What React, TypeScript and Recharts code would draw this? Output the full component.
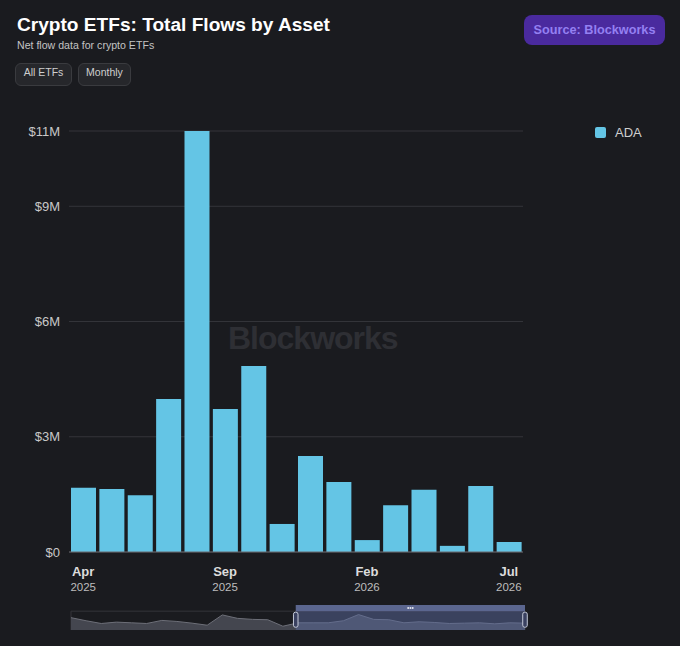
import { AreaChart, Area, BarChart, Bar, CartesianGrid, Legend, ReferenceArea, ReferenceDot, XAxis, YAxis } from 'recharts'

const months = [
  'Apr 2025', 'May 2025', 'Jun 2025', 'Jul 2025', 'Aug 2025', 'Sep 2025', 'Oct 2025', 'Nov 2025',
  'Dec 2025', 'Jan 2026', 'Feb 2026', 'Mar 2026', 'Apr 2026', 'May 2026', 'Jun 2026', 'Jul 2026',
]
const adaFlows = [1.67, 1.64, 1.48, 3.98, 10.96, 3.72, 4.84, 0.73, 2.5, 1.82, 0.31, 1.22, 1.62, 0.16, 1.72, 0.26]
const yTicks = [0, 3, 6, 9, 10.96]
const xTicks = ['Apr 2025', 'Sep 2025', 'Feb 2026', 'Jul 2026']
const navigatorValues = [
  36, 27, 19, 23, 21, 19, 28, 25, 20, 14, 44, 34, 31, 30, 11, 21,
  21, 21, 27, 45, 31, 30, 21, 24, 22, 19, 20, 21, 18, 21, 20,
]

const barData = months.map((month, i) => ({ month, ADA: adaFlows[i] }))
const navData = navigatorValues.map((value, i) => ({ i, value }))

const bg = '#1a1b1f'
const barColor = '#64c5e5'
const sans = '"Liberation Sans", Arial, sans-serif'

function MonthTick({ x, y, payload }: any) {
  const [month, year] = String(payload.value).split(' ')
  return (
    <g fontFamily={sans}>
      <text x={x} y={y + 16} textAnchor="middle" fontSize={13} fontWeight={700} fill="#dcdcdc">
        {month}
      </text>
      <text x={x} y={y + 31} textAnchor="middle" fontSize={11.5} fill="#bdbdbd">
        {year}
      </text>
    </g>
  )
}

function AdaLegend() {
  return (
    <div style={{ position: 'absolute', left: 595, top: 125, display: 'flex', alignItems: 'center', fontSize: 13, lineHeight: '15px', color: '#cfcfcf' }}>
      <span style={{ width: 11, height: 11, borderRadius: 2, background: barColor, marginRight: 9 }} />
      ADA
    </div>
  )
}

function RoundedHandle({ x, y, width, height }: any) {
  return <rect x={x} y={y} width={width} height={height} rx={2} fill="#3a4160" stroke="#c5cad8" strokeWidth={1} />
}

const pill = {
  position: 'absolute' as const,
  top: 63,
  height: 23,
  boxSizing: 'border-box' as const,
  border: '1px solid #3a3b3f',
  borderRadius: 6,
  background: '#26272b',
  color: '#cfcfcf',
  fontSize: 10.5,
  lineHeight: '17px',
  textAlign: 'center' as const,
}

export default function App() {
  return (
    <div style={{ position: 'absolute', left: 0, top: 0, width: 680, height: 646, background: bg, fontFamily: sans, overflow: 'hidden' }}>
      <div style={{ position: 'absolute', left: 17, top: 14, fontSize: 19.1, fontWeight: 700, color: '#fff', whiteSpace: 'nowrap' }}>
        Crypto ETFs: Total Flows by Asset
      </div>
      <div style={{ position: 'absolute', left: 17, top: 39, fontSize: 10.6, color: '#c4c4c4' }}>Net flow data for crypto ETFs</div>
      <div style={{ ...pill, left: 15, width: 57 }}>All ETFs</div>
      <div style={{ ...pill, left: 78, width: 53 }}>Monthly</div>
      <div
        style={{
          position: 'absolute', left: 524, top: 15, width: 141, height: 30, borderRadius: 8, background: '#4a2a9e',
          color: '#9480f2', fontSize: 12.7, fontWeight: 700, lineHeight: '30px', textAlign: 'center',
        }}
      >
        Source: Blockworks
      </div>
      <div style={{ position: 'absolute', left: 228, top: 320, fontSize: 32, fontWeight: 700, letterSpacing: -1, color: '#2e2f34' }}>Blockworks</div>

      <div style={{ position: 'absolute', left: 0, top: 0 }}>
        <BarChart width={680} height={646} data={barData} margin={{ top: 131, right: 157, bottom: 0, left: 0 }}>
          <CartesianGrid horizontal vertical={false} stroke="#34353a" />
          <XAxis
            dataKey="month"
            ticks={xTicks}
            interval={0}
            height={94}
            axisLine={{ stroke: '#66676b' }}
            tickLine={false}
            tick={<MonthTick />}
          />
          <YAxis
            width={69}
            domain={[0, 10.96]}
            ticks={yTicks}
            axisLine={false}
            tickLine={false}
            tickMargin={3}
            tick={{ fontSize: 13, fill: '#c8c8c8', fontFamily: sans }}
            tickFormatter={(v: number) => (v === 0 ? '$0' : `$${Math.round(v)}M`)}
          />
          <Legend content={<AdaLegend />} wrapperStyle={{ position: 'static' }} />
          <Bar dataKey="ADA" fill={barColor} barSize={25} isAnimationActive={false} />
        </BarChart>
      </div>

      <div style={{ position: 'absolute', left: 66, top: 605 }}>
        <AreaChart width={464} height={25} data={navData} margin={{ top: 0, right: 5, bottom: 0, left: 5 }}>
          <XAxis type="number" dataKey="i" domain={[0, 30]} hide />
          <YAxis domain={[0, 73]} hide />
          <ReferenceArea y1={0} y2={55} fill="none" stroke="#34353a" ifOverflow="visible" />
          <Area
            type="linear"
            dataKey="value"
            stroke="#6d6f78"
            strokeWidth={1}
            fill="#44464f"
            fillOpacity={1}
            dot={false}
            isAnimationActive={false}
          />
          <ReferenceArea x1={14.85} x2={30} y1={0} y2={55} fill="#5a6a9e" fillOpacity={0.5} stroke="none" />
          <ReferenceArea x1={14.85} x2={30} y1={55} y2={73} fill="#5b668f" fillOpacity={1} stroke="none" />
          <ReferenceArea x1={14.7} x2={15} y1={8} y2={52} shape={<RoundedHandle />} ifOverflow="visible" />
          <ReferenceArea x1={29.85} x2={30.15} y1={8} y2={52} shape={<RoundedHandle />} ifOverflow="visible" />
          {[22.28, 22.43, 22.58].map((gx) => (
            <ReferenceDot key={gx} x={gx} y={64} r={1} fill="#e6e8f0" stroke="none" />
          ))}
        </AreaChart>
      </div>
    </div>
  )
}
